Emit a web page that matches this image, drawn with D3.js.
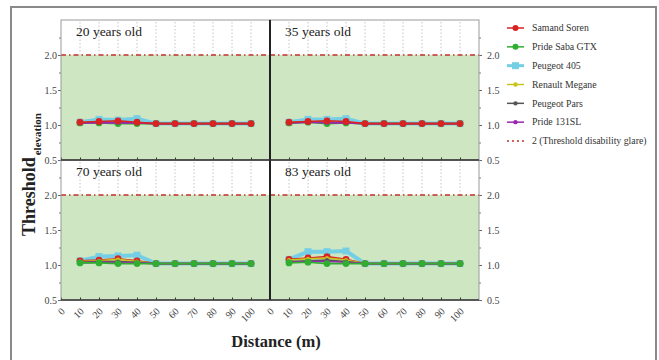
<!DOCTYPE html>
<html><head><meta charset="utf-8">
<script src="https://cdn.jsdelivr.net/npm/d3@7"></script>
<style>body{margin:0;background:#fff}svg{display:block}text{font-family:"Liberation Serif","Times New Roman",serif}</style>
</head><body><svg id="c" width="659" height="360"></svg>
<script>
const distances = [10,20,30,40,50,60,70,80,90,100];
const xTicks = [0,10,20,30,40,50,60,70,80,90,100];
const yTicks = [0.5,1.0,1.5,2.0];
const panels = ["20 years old","35 years old","70 years old","83 years old"];
const seriesNames = ["Samand Soren","Pride Saba GTX","Peugeot 405","Renault Megane","Peugeot Pars","Pride 131SL"];
const seriesColors = ["#d92323","#2fae2f","#74cfe4","#c8c41e","#555555","#9b27b0"];
const threshold = 2;
const thresholdLabel = "2 (Threshold disability glare)";
// values per panel per series
const samandSoren = [
  [1.04,1.05,1.06,1.04,1.02,1.02,1.02,1.02,1.02,1.02],
  [1.04,1.05,1.06,1.05,1.02,1.02,1.02,1.02,1.02,1.02],
  [1.06,1.07,1.09,1.06,1.02,1.02,1.02,1.02,1.02,1.02],
  [1.08,1.10,1.12,1.08,1.02,1.02,1.02,1.02,1.02,1.02]];
const prideSabaGTX = [
  [1.03,1.03,1.02,1.02,1.02,1.02,1.02,1.02,1.02,1.02],
  [1.03,1.04,1.02,1.03,1.02,1.02,1.02,1.02,1.02,1.02],
  [1.03,1.03,1.02,1.02,1.02,1.02,1.02,1.02,1.02,1.02],
  [1.03,1.04,1.02,1.02,1.02,1.02,1.02,1.02,1.02,1.02]];
const peugeot405 = [
  [1.04,1.08,1.07,1.09,1.02,1.02,1.02,1.02,1.02,1.02],
  [1.04,1.08,1.08,1.09,1.02,1.02,1.02,1.02,1.02,1.02],
  [1.06,1.12,1.13,1.14,1.02,1.02,1.02,1.02,1.02,1.02],
  [1.08,1.19,1.19,1.20,1.02,1.02,1.02,1.02,1.02,1.02]];
const renaultMegane = [
  [1.04,1.04,1.05,1.04,1.02,1.02,1.02,1.02,1.02,1.02],
  [1.04,1.05,1.05,1.04,1.02,1.02,1.02,1.02,1.02,1.02],
  [1.05,1.06,1.08,1.05,1.02,1.02,1.02,1.02,1.02,1.02],
  [1.07,1.09,1.10,1.07,1.02,1.02,1.02,1.02,1.02,1.02]];
const peugeotPars = [
  [1.03,1.04,1.04,1.03,1.02,1.02,1.02,1.02,1.02,1.02],
  [1.03,1.04,1.04,1.03,1.02,1.02,1.02,1.02,1.02,1.02],
  [1.04,1.05,1.05,1.04,1.02,1.02,1.02,1.02,1.02,1.02],
  [1.05,1.06,1.07,1.05,1.02,1.02,1.02,1.02,1.02,1.02]];
const pride131SL = [
  [1.03,1.03,1.03,1.03,1.02,1.02,1.02,1.02,1.02,1.02],
  [1.03,1.04,1.03,1.03,1.02,1.02,1.02,1.02,1.02,1.02],
  [1.03,1.04,1.04,1.03,1.02,1.02,1.02,1.02,1.02,1.02],
  [1.04,1.05,1.05,1.04,1.02,1.02,1.02,1.02,1.02,1.02]];
const seriesValues = [samandSoren, prideSabaGTX, peugeot405, renaultMegane, peugeotPars, pride131SL];
// index of series drawn last (on top) in each panel
const topSeries = [0,0,1,1];

const svg = d3.select("#c");
// outer frame
svg.append("rect").attr("x",11).attr("y",7).attr("width",645).attr("height",360)
  .attr("fill","none").attr("stroke","#8a8a8a").attr("stroke-width",2);

const PW = 209, PH = 140;
const origins = [[61,20],[270,20],[61,160],[270,160]];

panels.forEach((label, p) => {
  const [x0,y0] = origins[p];
  const x = d3.scaleLinear().domain([0,110]).range([x0, x0+PW]);
  const y = d3.scaleLinear().domain([0.5,2.5]).range([y0+PH, y0]);
  const g = svg.append("g");
  g.append("rect").attr("x",x0).attr("y",y(threshold)).attr("width",PW).attr("height",y(0.5)-y(threshold))
    .attr("fill","#cfe6c3");
  g.selectAll(".vg").data(distances).join("line")
    .attr("x1",d=>x(d)).attr("x2",d=>x(d)).attr("y1",y0+2).attr("y2",y(threshold))
    .attr("stroke","#b5b5b5").attr("stroke-width",0.8).attr("stroke-dasharray","1.5,2");
  g.append("line").attr("x1",x0).attr("x2",x0+PW).attr("y1",y(threshold)).attr("y2",y(threshold))
    .attr("stroke","#c0302a").attr("stroke-width",1.6).attr("stroke-dasharray","5,3,1.5,3");
  const leftSide = (p%2===0);
  const yAx = leftSide ? d3.axisLeft(y) : d3.axisRight(y);
  const axG = g.append("g").attr("transform",`translate(${leftSide?x0:x0+PW},0)`)
    .call(yAx.tickValues(yTicks).tickFormat(d3.format(".1f")).tickSize(3).tickPadding(leftSide?1:5));
  axG.select(".domain").remove();
  axG.selectAll("line").attr("stroke","#666");
  axG.selectAll("text").attr("font-size",10).attr("fill","#444");
  const minor = leftSide ? d3.axisLeft(y) : d3.axisRight(y);
  const mG = g.append("g").attr("transform",`translate(${leftSide?x0:x0+PW},0)`)
    .call(minor.tickValues([0.75,1.25,1.75,2.25]).tickFormat("").tickSize(2));
  mG.select(".domain").remove(); mG.selectAll("line").attr("stroke","#777");
  const bottom = p>=2;
  const xAx = d3.axisBottom(x).tickValues(xTicks).tickSize(2.5).tickFormat(bottom? d3.format("d") : "");
  const xG = g.append("g").attr("transform",`translate(0,${y0+PH})`).call(xAx);
  xG.select(".domain").remove();
  xG.selectAll("line").attr("stroke","#333").attr("transform","translate(0,-2.5)");
  xG.selectAll("text").attr("font-size",10).attr("fill","#444")
    .attr("text-anchor","end").attr("dy",0).attr("y",0)
    .attr("transform","translate(4,12) rotate(-45)");
  const order = d3.range(seriesNames.length).filter(i=>i!==topSeries[p] && i!==2);
  const drawOrder = [2, ...order, topSeries[p]];
  const line = d3.line().x((d,i)=>x(distances[i])).y(d=>y(d));
  drawOrder.forEach(s => {
    const vals = seriesValues[s][p];
    const isCyan = s===2;
    g.append("path").datum(vals).attr("d",line).attr("fill","none")
      .attr("stroke",seriesColors[s]).attr("stroke-width",isCyan?4:1.6).attr("stroke-linejoin","round");
    if (isCyan) {
      g.selectAll(null).data(vals).join("rect")
        .attr("x",(d,i)=>x(distances[i])-3.5).attr("y",d=>y(d)-3.5).attr("width",7).attr("height",7)
        .attr("fill",seriesColors[s]);
    } else {
      g.selectAll(null).data(vals).join("circle")
        .attr("cx",(d,i)=>x(distances[i])).attr("cy",d=>y(d)).attr("r",s<2?3.4:2)
        .attr("fill",seriesColors[s]);
    }
  });
  g.append("rect").attr("x",x0).attr("y",y0).attr("width",PW).attr("height",PH)
    .attr("fill","none").attr("stroke","#9a9a9a").attr("stroke-width",1);
  g.append("text").attr("x",x0+15).attr("y",y0+16).attr("font-size",13.5).attr("fill","#222").text(label);
});
svg.append("line").attr("x1",270).attr("x2",270).attr("y1",20).attr("y2",300).attr("stroke","#222").attr("stroke-width",2);
svg.append("line").attr("x1",61).attr("x2",479).attr("y1",160).attr("y2",160).attr("stroke","#333").attr("stroke-width",1.5);
svg.append("line").attr("x1",61).attr("x2",479).attr("y1",300).attr("y2",300).attr("stroke","#333").attr("stroke-width",1.5);

svg.append("text").attr("x",276).attr("y",347).attr("text-anchor","middle")
  .attr("font-size",16.5).attr("font-weight","bold").attr("fill","#222").text("Distance (m)");
const yt = svg.append("text").attr("transform","translate(35,236) rotate(-90)")
  .attr("font-weight","bold").attr("fill","#222");
yt.append("tspan").attr("font-size",18).text("Threshold");
yt.append("tspan").attr("font-size",11).attr("dx",2).attr("dy",6).text("elevation");

const lg = svg.append("g");
const legItems = seriesNames.map((n,i)=>({name:n,color:seriesColors[i],i}));
const ly = d3.scaleLinear().domain([0,6]).range([28,141]);
legItems.forEach(d => {
  const yy = ly(d.i);
  lg.append("line").attr("x1",507).attr("x2",524).attr("y1",yy).attr("y2",yy)
    .attr("stroke",d.color).attr("stroke-width",d.i===2?3:1.5);
  if (d.i===2) lg.append("rect").attr("x",512).attr("y",yy-3.5).attr("width",7).attr("height",7).attr("fill",d.color);
  else lg.append("circle").attr("cx",515.5).attr("cy",yy).attr("r",d.i<2?3:2.2).attr("fill",d.color);
  lg.append("text").attr("x",532).attr("y",yy+3.3).attr("font-size",9.8).attr("fill","#333").text(d.name);
});
const ty = ly(6);
lg.append("line").attr("x1",507).attr("x2",524).attr("y1",ty).attr("y2",ty)
  .attr("stroke","#c0302a").attr("stroke-width",1.6).attr("stroke-dasharray","2,3");
lg.append("text").attr("x",532).attr("y",ty+3.3).attr("font-size",9.8).attr("fill","#333").text(thresholdLabel);
</script></body></html>
